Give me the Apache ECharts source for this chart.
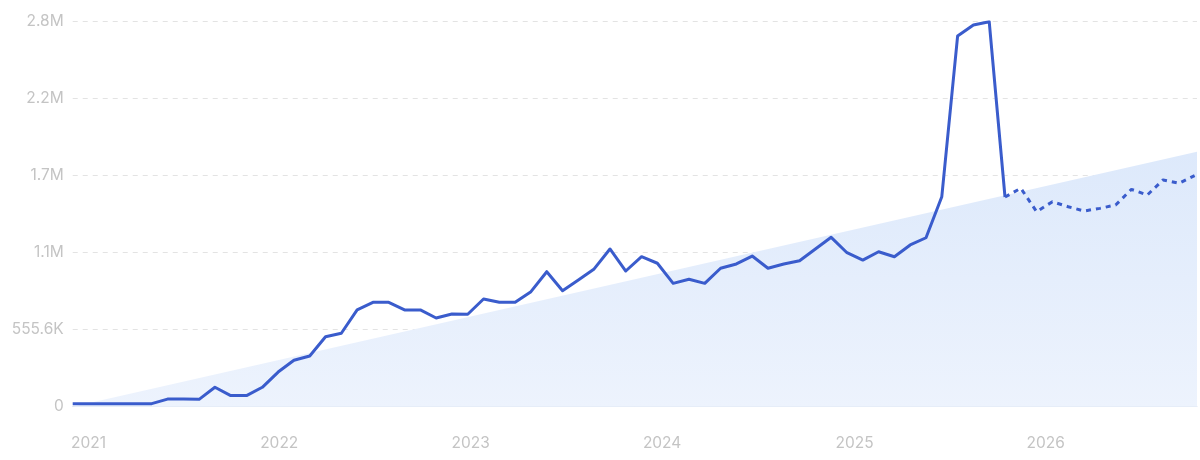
<!DOCTYPE html>
<html>
<head>
<meta charset="utf-8">
<script src="https://cdn.jsdelivr.net/npm/echarts@6/dist/echarts.min.js"></script>
<style>
  html, body { margin: 0; padding: 0; background: #ffffff; }
  #chart { width: 1200px; height: 460px; }
</style>
</head>
<body>
<div id="chart"></div>
<script>
// Months (Dec 2020 .. Nov 2026)
const months = [
  '2020-12',
  '2021-01','2021-02','2021-03','2021-04','2021-05','2021-06','2021-07','2021-08','2021-09','2021-10','2021-11','2021-12',
  '2022-01','2022-02','2022-03','2022-04','2022-05','2022-06','2022-07','2022-08','2022-09','2022-10','2022-11','2022-12',
  '2023-01','2023-02','2023-03','2023-04','2023-05','2023-06','2023-07','2023-08','2023-09','2023-10','2023-11','2023-12',
  '2024-01','2024-02','2024-03','2024-04','2024-05','2024-06','2024-07','2024-08','2024-09','2024-10','2024-11','2024-12',
  '2025-01','2025-02','2025-03','2025-04','2025-05','2025-06','2025-07','2025-08','2025-09','2025-10','2025-11','2025-12',
  '2026-01','2026-02','2026-03','2026-04','2026-05','2026-06','2026-07','2026-08','2026-09','2026-10','2026-11'
];

// Actual values (Dec 2020 .. Nov 2025)
const actualValues = [
  22000, 22000, 22000, 22000, 22000, 22000, 55000, 55000, 53000, 140000, 80000, 80000, 140000,
  250000, 335000, 366000, 505000, 530000, 698000, 753000, 753000, 698000, 698000, 640000, 669000,
  667000, 777000, 753000, 753000, 830000, 974000, 837000, 914000, 994000, 1138000, 979000, 1082000,
  1035000, 890000, 919000, 890000, 999000, 1030000, 1087000, 999000, 1030000, 1053000, 1138000, 1222000,
  1111000, 1058000, 1118000, 1082000, 1167000, 1219000, 1515000, 2674000, 2754000, 2778000, 1513000
];

// Forecast values (Nov 2025 .. Nov 2026)
const forecastStartIndex = 59;
const forecastValues = [
  1513000, 1576000, 1407000, 1479000, 1443000, 1412000, 1431000, 1455000, 1568000, 1527000, 1636000, 1612000, 1667000
];

// Trend band endpoints
const trendX = [0, 71.15];
const trendValues = [0, 1840000];

// Axis labels
const yTickLabels = ['0', '555.6K', '1.1M', '1.7M', '2.2M', '2.8M'];
const yMax = 2777778;
const yInterval = yMax / 5;
const yearLabels = ['2021', '2022', '2023', '2024', '2025', '2026'];
// where the year labels sit along the month axis
const yearLabelAt = [1.0, 13.07, 25.18, 37.3, 49.48, 61.57];

const actualData = actualValues.map((v, i) => [i, v]);
const forecastData = forecastValues.map((v, i) => [forecastStartIndex + i, v]);
const trendData = trendX.map((x, i) => [x, trendValues[i]]);

const chart = echarts.init(document.getElementById('chart'), null, { renderer: 'canvas' });
chart.setOption({
  animation: false,
  backgroundColor: '#ffffff',
  grid: { left: 72.7, right: 3, top: 21.7, bottom: 53.3, containLabel: false },
  xAxis: {
    type: 'value',
    min: 0,
    max: trendX[1],
    axisLine: { show: true, lineStyle: { color: '#dde5f2', width: 1 } },
    axisTick: { show: false },
    splitLine: { show: false },
    axisLabel: {
      customValues: yearLabelAt,
      formatter: function (v) {
        let best = 0;
        for (let k = 1; k < yearLabelAt.length; k++) {
          if (Math.abs(yearLabelAt[k] - v) < Math.abs(yearLabelAt[best] - v)) best = k;
        }
        return yearLabels[best];
      },
      color: '#c4c4c4',
      fontSize: 15.5,
      fontFamily: 'Inter, "Noto Sans", sans-serif',
      margin: 29
    }
  },
  yAxis: {
    type: 'value',
    min: 0,
    max: yMax,
    interval: yInterval,
    axisLine: { show: false },
    axisTick: { show: false },
    splitLine: { show: true, lineStyle: { color: '#e3e3e3', type: [5, 5], width: 1 } },
    axisLabel: {
      formatter: function (v) {
        const k = Math.round(v / yInterval);
        return yTickLabels[k] !== undefined ? yTickLabels[k] : '';
      },
      color: '#c4c4c4',
      fontSize: 15.5,
      fontFamily: 'Inter, "Noto Sans", sans-serif',
      margin: 9
    }
  },
  series: [
    {
      name: 'Trend',
      type: 'line',
      data: trendData,
      symbol: 'none',
      silent: true,
      z: 1,
      lineStyle: { width: 0, opacity: 0 },
      areaStyle: {
        opacity: 1,
        color: {
          type: 'linear', x: 0, y: 0, x2: 0, y2: 1,
          colorStops: [
            { offset: 0, color: '#dde9fb' },
            { offset: 1, color: '#edf3fd' }
          ]
        }
      }
    },
    {
      name: 'Volume',
      type: 'line',
      data: actualData,
      symbol: 'none',
      z: 3,
      lineStyle: { color: '#3a5ccc', width: 3, join: 'round' }
    },
    {
      name: 'Forecast',
      type: 'line',
      data: forecastData,
      symbol: 'none',
      z: 3,
      lineStyle: { color: '#3a5ccc', width: 3, type: [5, 5] }
    }
  ]
});
</script>
</body>
</html>
